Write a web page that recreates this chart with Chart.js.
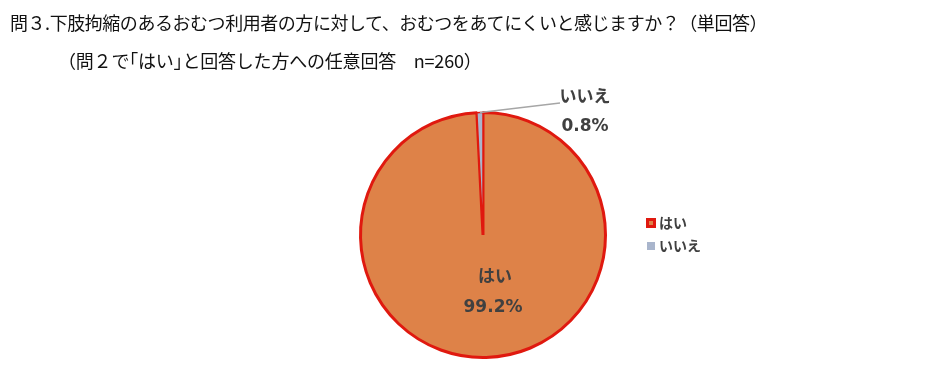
<!DOCTYPE html>
<html><head><meta charset="utf-8">
<script src="https://cdn.jsdelivr.net/npm/chart.js@4/dist/chart.umd.min.js"></script>
<style>
html,body{margin:0;padding:0;background:#fff;}
#wrap{position:relative;width:925px;height:380px;}
.t{position:absolute;font-family:"Noto Sans CJK JP","Noto Sans",sans-serif;color:#111;white-space:nowrap;}
</style></head><body>
<div id="wrap">
<canvas id="c" width="925" height="380"></canvas>
<div class="t" style="left:10px;top:9px;font-size:18px;letter-spacing:-0.45px;">問３.下肢拘縮のあるおむつ利用者の方に対して、おむつをあてにくいと感じますか？（単回答）</div>
<div class="t" style="left:58px;top:47px;font-size:18px;letter-spacing:-0.2px;">（問２で｢はい｣と回答した方への任意回答　n=260）</div>
</div>
<script>
const categories = ['はい', 'いいえ'];
const values = [99.2, 0.8];
const valueLabels = ['99.2%', '0.8%'];
const colors = ['#DE8248', '#A9B5CC'];
const borderColors = ['#E0190F', '#E0190F'];

const labelPlugin = {
  id: 'labels',
  afterDraw(chart) {
    const ctx = chart.ctx;
    const meta = chart.getDatasetMeta(0);
    ctx.save();
    ctx.fillStyle = '#404040';
    ctx.font = 'bold 17px "DejaVu Sans", "Noto Sans CJK JP", sans-serif';
    ctx.textAlign = 'center';
    ctx.textBaseline = 'middle';
    const a0 = meta.data[0];
    ctx.fillText(categories[0], a0.x + 12, a0.y + 43);
    ctx.fillText(valueLabels[0], a0.x + 10, a0.y + 73);
    const a1 = meta.data[1];
    const mid = (a1.startAngle + a1.endAngle) / 2;
    const px = a1.x + Math.cos(mid) * a1.outerRadius;
    const py = a1.y + Math.sin(mid) * a1.outerRadius;
    ctx.strokeStyle = '#A6A6A6';
    ctx.lineWidth = 1.5;
    ctx.beginPath();
    ctx.moveTo(px, py);
    ctx.lineTo(a1.x + 77, a1.y - 132);
    ctx.stroke();
    ctx.fillText(categories[1], a1.x + 102, a1.y - 137);
    ctx.fillText(valueLabels[1], a1.x + 102, a1.y - 108);
    ctx.font = 'bold 14px "Noto Sans CJK JP", sans-serif';
    ctx.textAlign = 'left';
    const lx = 646, ly = [223, 246];
    for (let i = 0; i < categories.length; i++) {
      if (i === 0) {
        ctx.fillStyle = borderColors[0];
        ctx.fillRect(lx, ly[i] - 5, 10, 10);
        ctx.fillStyle = colors[0];
        ctx.fillRect(lx + 3, ly[i] - 2, 4, 4);
      } else {
        ctx.fillStyle = colors[i];
        ctx.fillRect(lx + 1, ly[i] - 4, 8, 8);
      }
      ctx.fillStyle = '#404040';
      ctx.fillText(categories[i], lx + 13, ly[i]);
    }
    ctx.restore();
  }
};

new Chart(document.getElementById('c'), {
  type: 'pie',
  data: {
    labels: categories,
    datasets: [{
      data: values,
      backgroundColor: colors,
      borderColor: borderColors,
      borderWidth: [3, 1.5],
      borderAlign: 'center'
    }]
  },
  options: {
    responsive: false,
    animation: false,
    events: [],
    layout: { padding: { left: 359, right: 318, top: 111, bottom: 21 } },
    plugins: { legend: { display: false }, tooltip: { enabled: false } }
  },
  plugins: [labelPlugin]
});
</script>
</body></html>
